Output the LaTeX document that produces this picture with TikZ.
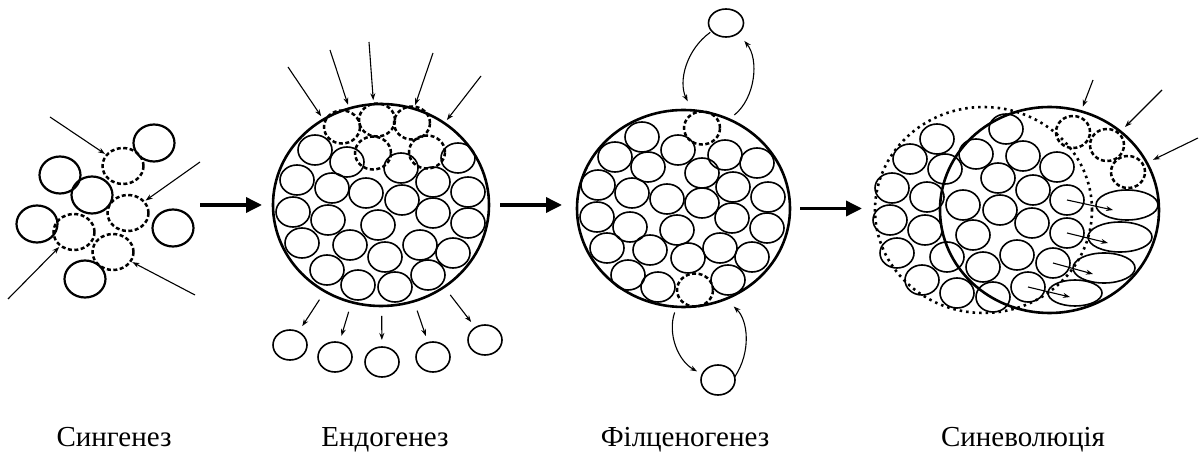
\documentclass[tikz,border=0pt]{standalone}
\usepackage{fontspec}
\setmainfont{Liberation Serif}
\usetikzlibrary{
  arrows.meta,
  shapes.geometric,
}

\begin{document}
\begin{tikzpicture}[
    x=1pt, y=-1pt,
    cell/.style={ellipse, draw, line width=1.6pt, inner sep=0pt, outer sep=0pt,
                 minimum width=34pt, minimum height=30pt},
    newcell/.style={cell, line width=2.5pt, dash pattern=on 4pt off 2.5pt,
                    minimum width=36pt, minimum height=33pt},
    bigcell/.style={ellipse, draw, line width=2.6pt, inner sep=0pt, outer sep=0pt},
    flow/.style={-{Stealth[length=7pt, width=5pt]}, line width=1.1pt},
    stage/.style={-{Triangle[length=16pt, width=15pt]}, line width=3.5pt},
    lbl/.style={anchor=base, font=\fontsize{29}{34}\selectfont},
  ]
  \path[use as bounding box] (0,0) rectangle (1200,454);

  % Сингенез
  \foreach \x/\y in {154/143, 60/175, 92/195, 37/224, 173/228, 85/279}
    \node[cell, line width=2.2pt, minimum width=41pt, minimum height=37pt] at (\x,\y) {};
  \foreach \x/\y [count=\i] in {123/166, 128/213, 74/232, 113/252}
    \node[newcell, minimum width=41pt, minimum height=36pt] (s\i) at (\x,\y) {};
  \foreach \x/\y [count=\i] in {50/117, 200/162, 8/299, 195/295}
    \coordinate (t\i) at (\x,\y);
  \foreach \i in {1,...,4}
    \draw[flow, shorten >=2pt] (t\i) -- (s\i);
  \coordinate (synout) at (200,205);

  % Ендогенез
  \node[bigcell, minimum width=216pt, minimum height=202pt] (endo) at (381,205) {};
  \foreach \x/\y in {315/150, 347/162, 401/168, 458/158, 297/180, 332/188, 366/193,
                     433/182, 468/192, 402/200, 293/212, 328/220, 433/213, 468/223,
                     378/225, 302/243, 350/245, 420/245, 453/253, 385/257, 327/270,
                     428/275, 358/285, 395/287}
    \node[cell] at (\x,\y) {};
  \foreach \x/\y in {342/127, 377/120, 412/123, 373/153, 427/152}
    \node[newcell] at (\x,\y) {};
  \foreach \x/\y [count=\i] in {288/67, 330/50, 369/42, 433/53, 481/76} {
    \coordinate (e\i) at (\x,\y);
    \draw[flow, shorten >=4pt] (e\i) -- (endo);
  }
  \foreach \x/\y [count=\i] in {290/345, 335/357, 382/362, 433/357, 485/340} {
    \node[cell] (o\i) at (\x,\y) {};
    \draw[flow, shorten <=10pt, shorten >=7pt] (endo) -- (o\i);
  }

  % Філценогенез
  \node[bigcell, minimum width=213pt, minimum height=197pt] (filc) at (683.5,208.5) {};
  \foreach \x/\y in {642/137, 615/157, 648/167, 678/150, 725/155, 757/163, 702/173,
                     598/185, 632/193, 667/199, 702/203, 733/187, 768/197, 597/217,
                     630/227, 677/230, 732/218, 767/228, 607/248, 650/250, 688/258,
                     720/248, 752/257, 628/275, 658/287, 728/280}
    \node[cell] at (\x,\y) {};
  \node[newcell] (fin) at (702,128) {};
  \node[newcell] (fout) at (695,290) {};
  \node[cell, minimum width=35pt, minimum height=28pt] (up) at (726,23) {};
  \node[cell] (down) at (718,380) {};
  \draw[flow, shorten <=2pt, shorten >=10pt] (up.210) to[bend right=40] (filc.85);
  \draw[flow, shorten <=7pt, shorten >=10pt] (filc.63) to[bend right=45] (up.320);
  \draw[flow, shorten <=6pt, shorten >=6pt] (filc.266) to[bend right=40] (down.160);
  \draw[flow, shorten >=11pt] (down.10) to[bend right=40] (filc.295);

  % Синеволюція
  \node[bigcell, dash pattern=on 2.5pt off 4pt, minimum width=217pt,
        minimum height=206pt] (old) at (983.5,210) {};
  \node[bigcell, minimum width=219pt, minimum height=206pt] (syne) at (1049.5,210) {};
  \foreach \x/\y in {937/139, 910/159, 945/169, 892/188, 927/197, 890/220, 925/230,
                     897/253, 947/257, 922/280, 957/293, 993/297, 1006/129, 976/154,
                     1023/156, 1057/167, 998/178, 1033/190, 963/205, 1000/210,
                     1032/223, 973/235, 1017/255, 983/267}
    \node[cell] at (\x,\y) {};
  \foreach \x/\y [count=\i] in {1067/200, 1067/233, 1053/263, 1028/287}
    \node[cell] (c\i) at (\x,\y) {};
  \foreach \x/\y [count=\i] in {1073/132, 1107/145, 1128/172}
    \node[newcell, minimum width=34pt, minimum height=32pt] (n\i) at (\x,\y) {};
  \foreach \x/\y/\w/\h [count=\i] in {1127/205/62/30, 1120/237/64/30,
                                      1104/268/62/30, 1075/293/54/26}
    \node[cell, minimum width=\w pt, minimum height=\h pt] (v\i) at (\x,\y) {};
  \foreach \x/\y [count=\i] in {1113/210, 1108/243, 1093/274, 1070/297}
    \coordinate (w\i) at (\x,\y);
  \foreach \i in {1,...,4}
    \draw[flow] (c\i.center) -- (w\i);
  \foreach \x/\y/\s [count=\i] in {1093/80/11, 1162/90/9, 1198/138/11} {
    \coordinate (a\i) at (\x,\y);
    \draw[flow, shorten >=\s pt] (a\i) -- (n\i);
  }

  % stages
  \draw[stage, shorten >=11pt] (synout) -- (synout -| endo.west);
  \draw[stage, shorten <=11pt, shorten >=15pt] (endo.east) -- (endo.east -| filc.west);
  \draw[stage, shorten <=10pt, shorten >=13pt] (filc.east) -- (filc.east -| old.west);

  \node[lbl] (lsyn) at (114,446) {Сингенез};
  \node[lbl] (lendo) at (385,446) {Ендогенез};
  \node[lbl] (lfilc) at (685,446) {Філценогенез};
  \node[lbl] (lsyne) at (1023,446) {Синеволюція};
\end{tikzpicture}
\end{document}
